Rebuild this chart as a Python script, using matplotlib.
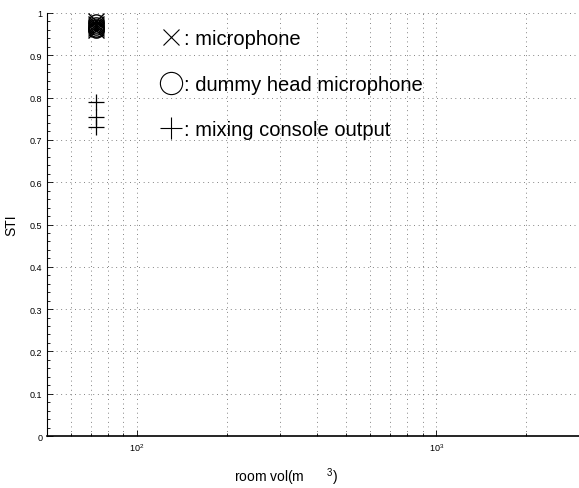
import matplotlib
matplotlib.use("Agg")
import matplotlib.pyplot as plt
from matplotlib.lines import Line2D
from matplotlib.ticker import LogLocator, NullFormatter, MultipleLocator

plt.rcParams["font.family"] = ["Liberation Sans", "DejaVu Sans"]
plt.rcParams["mathtext.fontset"] = "custom"
plt.rcParams["mathtext.rm"] = "Liberation Sans"
plt.rcParams["mathtext.it"] = "Liberation Sans"

# room volume (m^3) and STI per measurement position
mic_vol = [73, 73, 73, 73, 73]
mic_sti = [0.98, 0.975, 0.97, 0.965, 0.96]
head_vol = [73, 73, 73, 73, 73]
head_sti = [0.978, 0.972, 0.968, 0.963, 0.96]
console_vol = [73, 73, 73]
console_sti = [0.79, 0.755, 0.73]

legend_labels = [": microphone", ": dummy head microphone", ": mixing console output"]

fig = plt.figure(figsize=(5.79, 4.89), dpi=100)
ax = fig.add_axes([0.0812, 0.1063, 0.9188, 0.8651])

ms = 11
ax.plot(mic_vol, mic_sti, "x", color="k", ms=ms, mew=1.0)
ax.plot(head_vol, head_sti, "o", color="k", mfc="none", ms=ms, mew=1.0)
ax.plot(console_vol, console_sti, "+", color="k", ms=12, mew=0.9)

ax.set_xscale("log")
ax.set_xlim(50, 3000)
ax.set_ylim(0, 1)
ax.set_yticks([i / 10 for i in range(11)])
ax.set_yticklabels(["0", "0.1", "0.2", "0.3", "0.4", "0.5", "0.6", "0.7", "0.8", "0.9", "1"])
ax.yaxis.set_minor_locator(MultipleLocator(0.02))
ax.xaxis.set_major_locator(LogLocator(base=10))
ax.xaxis.set_minor_locator(LogLocator(base=10, subs=range(2, 10)))
ax.xaxis.set_minor_formatter(NullFormatter())

ax.tick_params(which="both", direction="in", labelsize=6.5, width=0.6)
ax.tick_params(which="major", length=4)
ax.tick_params(which="minor", length=2)

grid_style = dict(color="0.35", linestyle=(0, (1, 4.5)), linewidth=0.6)
ax.grid(True, which="major", axis="both", **grid_style)
ax.grid(True, which="minor", axis="x", **grid_style)

for side in ("top", "right"):
    ax.spines[side].set_visible(False)
ax.spines["left"].set_linewidth(0.8)
ax.spines["bottom"].set_linewidth(1.2)

ax.set_xlabel("room vol(m      $\\mathregular{^{3}}$)", fontsize=10)
ax.xaxis.set_label_coords(0.45, -0.07)
ax.set_ylabel("STI", fontsize=10, labelpad=8)

handles = [
    Line2D([], [], marker="x", color="k", ls="none", ms=12, mew=0.8),
    Line2D([], [], marker="o", color="k", mfc="none", ls="none", ms=16, mew=0.8),
    Line2D([], [], marker="+", color="k", ls="none", ms=16, mew=0.8),
]
ax.legend(handles, legend_labels, loc="upper left", bbox_to_anchor=(0.195, 0.985),
          frameon=False, fontsize=14.5, handlelength=1.0, handletextpad=0.15,
          labelspacing=1.3, borderpad=0)

fig.savefig("out.png", dpi=100)
